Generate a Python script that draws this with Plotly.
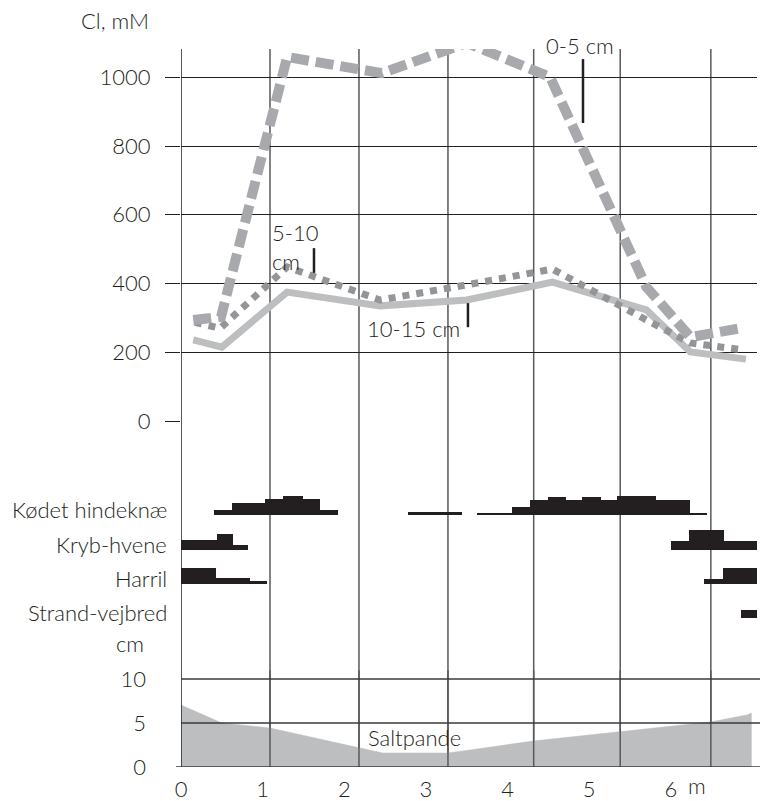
import plotly.graph_objects as go

# ---------------- data ----------------
# Cl concentration profiles (mM) along the transect (m)
x_0_5 = [0.15, 0.49, 1.30, 2.46, 3.50, 4.52, 5.70, 6.24, 6.88]
cl_0_5 = [294, 303, 1059, 1012, 1100, 1001, 390, 244, 271]

x_5_10 = [0.17, 0.48, 1.30, 2.44, 3.50, 4.55, 5.70, 6.24, 6.88]
cl_5_10 = [287, 270, 448, 352, 396, 442, 294, 227, 207]

x_10_15 = [0.15, 0.50, 1.30, 2.44, 3.50, 4.55, 5.70, 6.24, 6.92]
cl_10_15 = [236, 215, 375, 335, 352, 404, 323, 201, 180]

y_ticks_cl = [0, 200, 400, 600, 800, 1000]
x_ticks = [0, 1, 2, 3, 4, 5, 6]
x_ticktext = ["0", "1", "2", "3", "4", "5", "6"]

# Species occurrence profiles: segments (start m, end m, relative height)
species = ["Kødet hindeknæ", "Kryb-hvene", "Harril", "Strand-vejbred"]
kh_x0 = [0.40, 0.63, 1.03, 1.25, 2.78, 3.63, 4.05, 4.28, 4.50, 4.91, 5.34]
kh_x1 = [1.92, 1.70, 1.70, 1.49, 3.44, 6.44, 4.54, 6.24, 4.72, 5.15, 5.82]
kh_h = [0.15, 0.35, 0.47, 0.55, 0.09, 0.06, 0.23, 0.44, 0.52, 0.52, 0.55]

kr_x0 = [0.00, 0.00, 0.44, 6.00, 6.22]
kr_x1 = [0.82, 0.64, 0.64, 7.06, 6.65]
kr_h = [0.15, 0.27, 0.46, 0.26, 0.56]

ha_x0 = [0.00, 0.00, 0.00, 6.41, 6.64]
ha_x1 = [1.05, 0.85, 0.43, 7.06, 7.06]
ha_h = [0.09, 0.17, 0.47, 0.15, 0.47]

sv_x0 = [6.86]
sv_x1 = [7.06]
sv_h = [0.23]

# Surface elevation profile (cm)
soil_x = [0, 0.50, 1.09, 2.16, 2.47, 3.26, 3.54, 4.31, 5.38, 6.48, 6.93, 6.99]
soil_cm = [7.05, 5.0, 4.43, 2.27, 1.59, 1.59, 1.93, 2.95, 3.98, 5.11, 5.91, 6.14]
y_ticks_cm = [0, 5, 10]

# ---------------- layout constants ----------------
W, H = 760, 801
L, R, T, B = 181, 757, 49, 767
X_MAX = (R - L) / 81.64
GRID_X = [1.09, 2.18, 3.27, 4.32, 5.38, 6.49]

INK = "#231f20"
FONT = dict(family="Lato", size=22, color=INK, weight=300)

def pxx(px):
    return (px - L) / (R - L)

def pxy(py):
    return (B - py) / (B - T)

top_dom = [pxy(421), 1.0]
top_max = (421 - T) / 0.3437
bot_scale = 8.8
bot_top = 11
bot_dom = [0, pxy(B - bot_top * bot_scale)]
row_px = 34.33
sp_lo, sp_hi = -0.5, 4.0
sp_dom = [pxy(618 - sp_lo * row_px), pxy(618 - sp_hi * row_px)]

fig = go.Figure()

# soil fill
fig.add_trace(go.Scatter(x=soil_x, y=soil_cm, yaxis="y2", mode="lines",
                         line=dict(color="#bcbec0", width=0.5), fill="tozeroy",
                         fillcolor="#bcbec0", hoverinfo="skip"))

# species bars
groups = [(kh_x0, kh_x1, kh_h), (kr_x0, kr_x1, kr_h), (ha_x0, ha_x1, ha_h), (sv_x0, sv_x1, sv_h)]
for i, (x0s, x1s, hs) in enumerate(groups):
    base = len(species) - 1 - i
    fig.add_trace(go.Bar(
        x=[(a + b) / 2 for a, b in zip(x0s, x1s)],
        width=[b - a for a, b in zip(x0s, x1s)],
        y=hs, base=[base] * len(hs), yaxis="y3",
        marker=dict(color=INK, line=dict(width=0)), hoverinfo="skip"))

# Cl curves
fig.add_trace(go.Scatter(x=x_10_15, y=cl_10_15, mode="lines", cliponaxis=False,
                         line=dict(color="#bcbec0", width=7)))
fig.add_trace(go.Scatter(x=x_5_10, y=cl_5_10, mode="lines", cliponaxis=False,
                         line=dict(color="#939598", width=7, dash="7px,7px")))
fig.add_trace(go.Scatter(x=x_0_5, y=cl_0_5, mode="lines", cliponaxis=False,
                         line=dict(color="#a7a9ac", width=10, dash="18px,7px")))

shapes = []
# vertical grid lines (full height, below) and bottom panel part (above fill)
for gx in GRID_X:
    shapes.append(dict(type="line", xref="x", yref="paper", x0=gx, x1=gx, y0=0, y1=1,
                       line=dict(color="#58595b", width=1.5), layer="below"))
    shapes.append(dict(type="line", xref="x", yref="y2", x0=gx, x1=gx, y0=0, y1=bot_top,
                       line=dict(color="#58595b", width=1.5), layer="above"))
# left axis line
shapes.append(dict(type="line", xref="x", yref="paper", x0=0, x1=0, y0=0, y1=1,
                   line=dict(color=INK, width=1.5), layer="above"))
# bottom panel horizontal lines
for v in y_ticks_cm:
    shapes.append(dict(type="line", xref="paper", yref="y2", x0=0 if v else pxx(176),
                       x1=pxx(760), y0=v, y1=v,
                       line=dict(color="#3a3a3c", width=1.5), layer="above"))

# leader lines for curve labels
leaders = [(4.924, 1053, 867), (1.629, 503, 431), (3.515, 343, 273)]
for lx, ly0, ly1 in leaders:
    shapes.append(dict(type="line", xref="x", yref="y", x0=lx, x1=lx, y0=ly0, y1=ly1,
                       line=dict(color=INK, width=2.5), layer="above"))

annotations = [
    dict(x=pxx(151), y=pxy(21), xref="paper", yref="paper", text="Cl, mM",
         xanchor="right", yanchor="middle", showarrow=False),
    dict(x=4.887, y=pxy(45), xref="x", yref="paper", text="0-5 cm",
         xanchor="center", yanchor="middle", showarrow=False),
    dict(x=1.09, y=pxy(247), xref="x", yref="paper", text="5-10<br>cm",
         xanchor="left", yanchor="middle", align="left", showarrow=False),
    dict(x=2.842, y=pxy(328), xref="x", yref="paper", text="10-15 cm",
         xanchor="center", yanchor="middle", showarrow=False),
    dict(x=2.866, y=pxy(737), xref="x", yref="paper", text="Saltpande",
         xanchor="center", yanchor="middle", showarrow=False),
    dict(x=pxx(146), y=pxy(643), xref="paper", yref="paper", text="cm",
         xanchor="right", yanchor="middle", showarrow=False),
    dict(x=pxx(697), y=pxy(800), xref="paper", yref="paper", text="m",
         xanchor="center", yanchor="bottom", showarrow=False, borderpad=0),
]
for i, name in enumerate(species):
    base = len(species) - 1 - i
    annotations.append(dict(x=pxx(169), y=base + 0.15, xref="paper", yref="y3", text=name,
                            xanchor="right", yanchor="middle", showarrow=False))

fig.update_layout(
    width=W, height=H, margin=dict(l=L, r=W - R, t=T, b=H - B, pad=0, autoexpand=False),
    paper_bgcolor="white", plot_bgcolor="white", showlegend=False,
    font=FONT, barmode="overlay", bargap=0,
    shapes=shapes, annotations=annotations,
    xaxis=dict(domain=[0, 1], range=[0, X_MAX], anchor="y2", tickvals=x_ticks,
               ticktext=x_ticktext, showgrid=False, zeroline=False, showline=False,
               ticks="", ticklabelstandoff=7, automargin=False, fixedrange=True),
    yaxis=dict(domain=top_dom, range=[0, top_max], anchor="x", tickvals=y_ticks_cl,
               showgrid=True, gridcolor=INK, gridwidth=1.3, zeroline=False, showline=False,
               ticks="outside", ticklen=15, tickwidth=1.3, tickcolor=INK,
               ticklabelstandoff=10, automargin=False),
    yaxis2=dict(domain=bot_dom, range=[0, bot_top], anchor="x", tickvals=y_ticks_cm,
                showgrid=False, zeroline=False, showline=False, ticks="",
                ticklabelstandoff=34, automargin=False),
    yaxis3=dict(domain=sp_dom, range=[sp_lo, sp_hi], anchor="x", visible=False,
                automargin=False),
)

fig.write_html("out.html")
